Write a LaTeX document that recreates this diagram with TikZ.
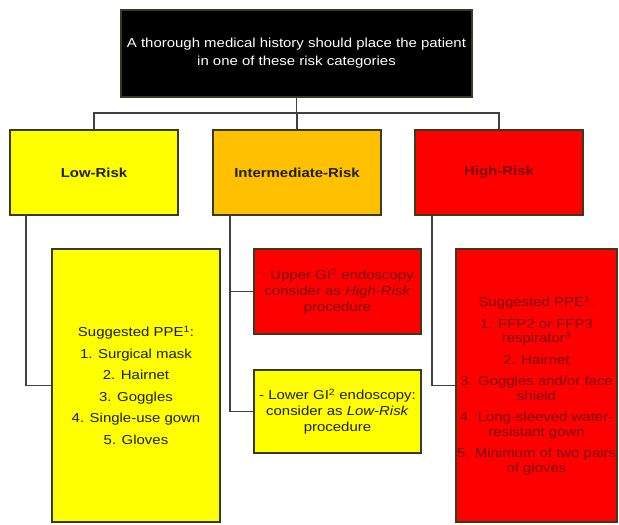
\documentclass[tikz,border=0pt]{standalone}
\usepackage{fontspec}
\setmainfont{Liberation Sans}[FakeStretch=1.15]
\definecolor{cyellow}{HTML}{FFFF00}
\definecolor{corange}{HTML}{FFC000}
\definecolor{cred}{HTML}{FF0000}
\definecolor{darkred}{HTML}{7A0000}
\definecolor{ink}{HTML}{1E1E00}
\definecolor{edge}{HTML}{3A3A20}
\definecolor{wire}{HTML}{404040}
\tikzset{
  box/.style={draw=edge, line width=1.3pt, rectangle, inner sep=0pt, align=center,
    font=\fontsize{13}{14.5}\selectfont},
  yb/.style={box, fill=cyellow, text=ink},
  ob/.style={box, fill=corange, text=ink},
  rb/.style={box, fill=cred, text=darkred},
  wireline/.style={draw=wire, line width=1.4pt},
}
\begin{document}
\begin{tikzpicture}[x=1pt, y=-1pt]
\useasboundingbox (0,0) rectangle (619,525);
% top
\node[box, fill=black, text=white, minimum width=351pt, minimum height=87pt,
  font=\fontsize{13}{18}\selectfont] (top) at (296.5,53.5)
  {A thorough medical history should place the patient\\in one of these risk categories};
% category boxes
\node[yb, minimum width=168pt, minimum height=85pt, font=\fontsize{13}{14.5}\selectfont\bfseries] (low) at (94,172.5) {Low-Risk};
\node[ob, minimum width=168pt, minimum height=85pt, font=\fontsize{13}{14.5}\selectfont\bfseries] (inter) at (297,172.5) {Intermediate-Risk};
\node[rb, minimum width=168pt, minimum height=85pt, font=\fontsize{13}{14.5}\selectfont\bfseries] (high) at (499,172.5) {High-Risk};
% detail boxes
\node[yb, minimum width=168pt, minimum height=273pt] (lowppe) at (136,385.5)
  {Suggested PPE\textsuperscript{1}:\\[7pt]1. Surgical mask\\[7pt]2. Hairnet\\[7pt]3. Goggles\\[7pt]4. Single-use gown\\[7pt]5. Gloves};
\node[rb, minimum width=167pt, minimum height=85pt, font=\fontsize{13}{16}\selectfont] (upper) at (337.5,291.5)
  {- Upper GI\textsuperscript{2} endoscopy\\consider as \textit{High-Risk}\\procedure};
\node[yb, minimum width=167pt, minimum height=83pt, font=\fontsize{13}{16}\selectfont] (lower) at (337.5,411.5)
  {- Lower GI\textsuperscript{2} endoscopy:\\consider as \textit{Low-Risk}\\procedure};
\node[rb, minimum width=161pt, minimum height=273pt] (highppe) at (536.5,385.5)
  {Suggested PPE\textsuperscript{1}:\\[7pt]1. FFP2 or FFP3\\respirator\textsuperscript{3}\\[7pt]2. Hairnet\\[7pt]3. Goggles and/or face\\shield\\[7pt]4. Long-sleeved water-\\resistant gown\\[7pt]5. Minimum of two pairs\\of gloves};
% connectors
\coordinate (bus) at (296.5,113);
\path[wireline] (top.south) -- (bus);
\path[wireline] (low.north) -- (low.north |- bus) -- (high.north |- bus) -- (high.north);
\path[wireline] (inter.north) -- (inter.north |- bus);
\coordinate (lowdrop) at (26,215);
\coordinate (interdrop) at (230,215);
\coordinate (highdrop) at (432,215);
\path[wireline] (lowdrop) |- (lowppe.west);
\path[wireline] (interdrop) |- (lower.west);
\path[wireline] (interdrop |- upper.west) -- (upper.west);
\path[wireline] (highdrop) |- (highppe.west);
\end{tikzpicture}
\end{document}
